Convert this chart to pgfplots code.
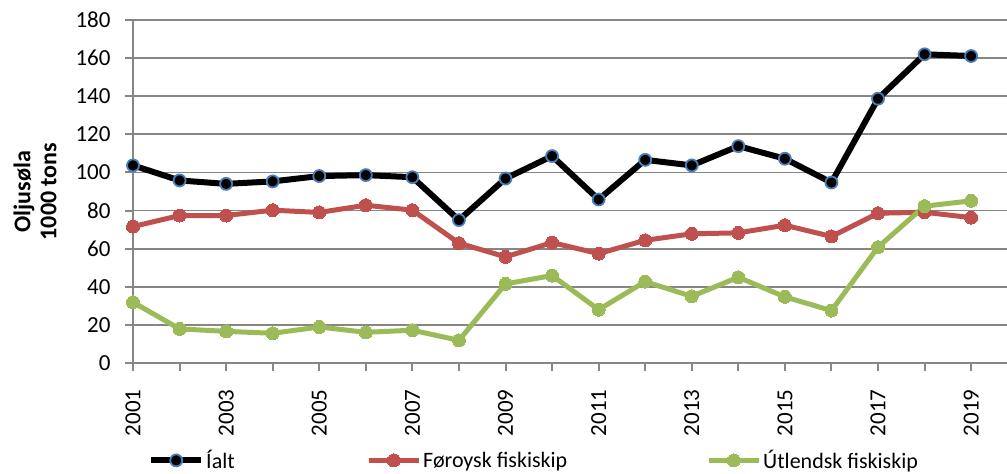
\documentclass[border=0pt]{standalone}
\usepackage{pgfplots}
\pgfplotsset{compat=1.18}
\usepackage{fontspec}
\setmainfont{Carlito}
\definecolor{axgray}{HTML}{868686}
\definecolor{ered}{HTML}{C0504D}
\definecolor{egreen}{HTML}{9BBB59}
\definecolor{eblue}{HTML}{4A7EBB}
\begin{document}
\begin{tikzpicture}
\begin{axis}[
  name=ax,
  scale only axis,
  width=874pt, height=343pt,
  xmin=2001, xmax=2019.77,
  ymin=0, ymax=180,
  axis x line*=bottom, axis y line*=left,
  axis line style={draw=axgray, line width=2.2pt},
  xtick={2001,2003,...,2019},
  minor xtick={2002,2004,...,2018},
  ytick={0,20,...,180},
  ymajorgrids,
  grid style={draw=axgray, line width=1.8pt},
  major tick style={draw=axgray, line width=2pt},
  minor tick style={draw=axgray, line width=2pt},
  tick align=outside,
  major tick length=8pt, minor tick length=8pt,
  /pgf/number format/1000 sep={},
  /pgf/number format/assume math mode=true,
  ticklabel style={font=\fontsize{23}{27}\selectfont},
  yticklabel style={xshift=-11pt},
  xticklabel style={rotate=90, anchor=east, xshift=-15pt},
  ylabel={Oljusøla\\1000 tons},
  ylabel style={at={(axis description cs:-0.112,0.5)}, anchor=center, align=center, font=\bfseries\fontsize{24}{26}\selectfont},
  clip=false,
  legend columns=3,
  legend style={at={(axis description cs:0.0172,-0.284)}, anchor=west, draw=none, fill=none, inner sep=0pt,
    font=\fontsize{22}{26}\selectfont, /tikz/every even column/.style={column sep=0pt}},
  legend image code/.code={\draw[mark repeat=2,mark phase=2] plot coordinates {(0pt,0pt) (25pt,0pt) (50pt,0pt)};},
]
\addplot[black, line width=6pt, mark=*, mark size=6pt, mark options={fill=black, draw=eblue, line width=1.8pt}] coordinates {
(2001,103.7) (2002,95.8) (2003,94.0) (2004,95.3) (2005,98.1) (2006,98.6) (2007,97.5) (2008,75.0) (2009,96.8) (2010,108.6)
(2011,85.8) (2012,106.6) (2013,103.7) (2014,113.8) (2015,107.2) (2016,94.7) (2017,138.7) (2018,162.0) (2019,161.1)};
\addlegendentry{\makebox[158pt][l]{Íalt}}
\addplot[ered, line width=5pt, mark=*, mark size=6.5pt, mark options={fill=ered, draw=ered, line width=0pt}] coordinates {
(2001,71.6) (2002,77.4) (2003,77.4) (2004,80.2) (2005,79.0) (2006,82.8) (2007,80.2) (2008,62.9) (2009,55.7) (2010,63.2)
(2011,57.4) (2012,64.4) (2013,67.8) (2014,68.3) (2015,72.3) (2016,66.4) (2017,78.6) (2018,79.1) (2019,76.3)};
\addlegendentry{\makebox[281pt][l]{Føroysk fiskiskip}}
\addplot[egreen, line width=5pt, mark=*, mark size=6.5pt, mark options={fill=egreen, draw=egreen, line width=0pt}] coordinates {
(2001,31.9) (2002,17.9) (2003,16.6) (2004,15.6) (2005,18.9) (2006,16.1) (2007,17.2) (2008,11.9) (2009,41.5) (2010,45.9)
(2011,28.0) (2012,42.7) (2013,35.0) (2014,45.0) (2015,34.7) (2016,27.5) (2017,60.8) (2018,82.3) (2019,85.1)};
\addlegendentry{Útlendsk fiskiskip}
\end{axis}
\pgfresetboundingbox
\path[use as bounding box] ([shift={(-133pt,-111pt)}]ax.south west) rectangle ([shift={(0pt,20pt)}]ax.north east);
\end{tikzpicture}
\end{document}
